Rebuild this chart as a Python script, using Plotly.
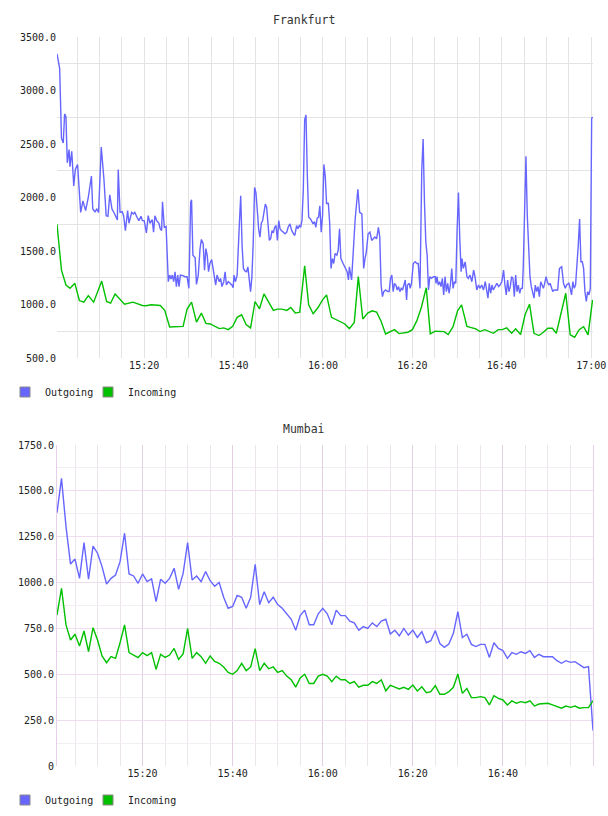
import plotly.graph_objects as go
import pandas as pd

BLUE = '#6666ff'
GREEN = '#00c000'
FONT = 'DejaVu Sans Mono'

# ---------------- Frankfurt (minutes after 15:00, value) ----------------
fra_out_min = [0.5, 1.1, 1.5, 1.9, 2.2, 2.5, 2.8, 3.2, 3.4, 3.8, 4.25, 4.6, 5.1, 5.8, 6.3, 6.9, 7.5, 7.9, 8.2, 8.5,
               9.0, 9.4, 9.8, 10.4, 11.0, 11.5, 11.9, 12.3, 12.8, 13.4, 14.0, 14.2, 14.6, 15.1, 15.4, 15.8, 16.3, 16.6,
               17.2, 17.6, 17.9, 18.4, 18.8, 19.3, 19.6, 20.0, 20.5, 20.9, 21.3, 21.8, 22.1, 22.4, 22.8, 23.3, 23.6,
               23.9, 24.1, 24.5, 24.9, 25.4, 25.7, 26.0, 26.3, 26.6, 26.9, 27.2, 27.5, 27.8, 28.1, 28.7, 29.1, 29.6,
               30.0, 30.4, 30.6, 30.9, 31.1, 31.4, 31.7, 32.1, 32.5, 32.8, 33.2, 33.5, 33.8, 34.1, 34.4, 34.7, 35.1,
               35.6, 36.0, 36.3, 36.8, 37.1, 37.4, 37.8, 38.1, 38.4, 38.8, 39.2, 39.6, 39.9, 40.1, 40.4, 40.8, 41.3,
               41.6, 41.9, 42.2, 42.6, 42.9, 43.2, 43.5, 43.8, 44.1, 44.4, 44.7, 45.0, 45.4, 45.6, 45.9, 46.2, 46.5,
               46.8, 47.1, 47.4, 47.7, 48.0, 48.3, 48.6, 48.9, 49.2, 49.5, 49.8, 50.1, 50.4, 50.7, 51.1, 51.5, 51.9,
               52.2, 52.6, 53.0, 53.4, 53.7, 54.1, 54.4, 54.7, 55.0, 55.3, 55.6, 55.9, 56.2, 56.5, 56.8, 57.2, 57.5,
               57.8, 58.1, 58.4, 58.7, 59.0, 59.3, 59.6, 59.9, 60.2, 60.5, 60.8, 61.2, 61.5, 61.8, 62.1, 62.4, 62.7,
               63.1, 63.4, 63.7, 64.0, 64.5, 64.9, 65.4, 65.7, 65.9, 66.4, 66.8, 67.2, 67.8, 68.2, 68.7, 69.1, 69.4,
               69.7, 70.1, 70.5, 70.9, 71.3, 71.6, 72.0, 72.4, 72.7, 73.0, 73.3, 73.6, 74.0, 74.5, 74.8, 75.1, 75.4,
               75.7, 76.0, 76.3, 76.6, 76.9, 77.2, 77.5, 77.8, 78.1, 78.4, 78.7, 78.9, 79.3, 79.5, 79.8, 80.2, 80.6,
               81.0, 81.3, 81.7, 82.1, 82.4, 82.7, 83.0, 83.3, 83.6, 83.9, 84.3, 84.7, 85.1, 85.3, 85.5, 85.8, 86.1,
               86.4, 86.7, 87.0, 87.3, 87.6, 87.9, 88.2, 88.5, 88.8, 89.1, 89.4, 89.7, 90.0, 90.3, 90.6, 90.9, 91.1,
               91.4, 91.8, 92.2, 92.5, 92.9, 93.3, 93.7, 94.0, 94.4, 94.8, 95.1, 95.5, 95.9, 96.3, 96.6, 96.9, 97.2,
               97.5, 97.8, 98.1, 98.5, 98.9, 99.3, 99.6, 100.0, 100.4, 100.7, 101.0, 101.3, 101.6, 101.9, 102.2,
               102.5, 102.8, 103.1, 103.4, 103.7, 104.0, 104.3, 104.6, 104.8, 105.1, 105.4, 105.7, 106.0, 106.3,
               106.6, 106.9, 107.2, 107.5, 107.8, 108.1, 108.4, 108.7, 109.0, 109.3, 109.6, 109.9, 110.2, 110.5,
               110.8, 111.1, 111.4, 111.7, 112.0, 112.5, 112.9, 113.4, 113.8, 114.2, 114.5, 115.0, 115.3, 115.6,
               115.9, 116.2, 116.5, 116.8, 117.1, 117.4, 117.7, 118.0, 118.3, 118.6, 118.9, 119.2, 119.5, 119.8,
               120.1, 120.4]
fra_out_val = [3343, 3204, 2556, 2510, 2781, 2756, 2324, 2448, 2287, 2432, 2108, 2262, 2309, 1861, 1969, 1877, 2000,
               2139, 2201, 1892, 1867, 1892, 1861, 2472, 2170, 1830, 1824, 2025, 1892, 1846, 1790, 2262, 1861, 1867,
               1830, 1691, 1877, 1759, 1861, 1846, 1861, 1815, 1784, 1824, 1784, 1784, 1670, 1830, 1759, 1793, 1676,
               1830, 1784, 1759, 1707, 1691, 1960, 1722, 1728, 1213, 1275, 1238, 1275, 1213, 1306, 1167, 1275, 1167,
               1275, 1269, 1260, 1260, 1151, 1954, 1979, 1460, 1445, 1436, 1188, 1275, 1522, 1608, 1568, 1321, 1522,
               1460, 1306, 1383, 1420, 1281, 1182, 1275, 1213, 1244, 1167, 1213, 1306, 1182, 1213, 1198, 1182, 1157,
               1275, 1213, 1275, 1759, 2016, 1553, 1337, 1312, 1306, 1352, 1260, 1120, 1260, 1584, 2093, 2046, 1830,
               1707, 1630, 1759, 1784, 1877, 1938, 1907, 1753, 1599, 1614, 1691, 1670, 1722, 1738, 1599, 1784, 1707,
               1691, 1676, 1661, 1676, 1722, 1753, 1691, 1661, 1645, 1738, 1707, 1738, 1722, 1784, 2077, 2725, 2772,
               2201, 1815, 1799, 1769, 1753, 1775, 1722, 1806, 1815, 1923, 1676, 1830, 2309, 2201, 1945, 1946, 1759,
               1337, 1429, 1383, 1476, 1460, 1507, 1707, 1429, 1383, 1352, 1306, 1229, 1352, 1229, 1553, 1799, 2077,
               1861, 1846, 1337, 1429, 1491, 1661, 1676, 1599, 1614, 1630, 1614, 1722, 1630, 1182, 1074, 1120, 1136,
               1120, 1120, 1244, 1275, 1120, 1198, 1182, 1136, 1167, 1120, 1151, 1136, 1182, 1229, 1043, 1182, 1198,
               1151, 1198, 1383, 1399, 1383, 1383, 1151, 2262, 2546, 1954, 1584, 1460, 1136, 1260, 1244, 1260, 1260,
               1198, 1260, 1182, 1213, 1167, 1244, 1090, 1260, 1120, 1198, 1105, 1182, 1337, 1151, 1213, 1198, 1691,
               2046, 1614, 1306, 1429, 1337, 1399, 1260, 1244, 1275, 1213, 1321, 1260, 1136, 1182, 1151, 1182, 1136,
               1213, 1120, 1059, 1198, 1105, 1182, 1136, 1167, 1198, 1167, 1182, 1213, 1321, 1182, 1090, 1229, 1120,
               1167, 1260, 1244, 1074, 1275, 1120, 1182, 1105, 1151, 1151, 1352, 1784, 2386, 1830, 1460, 1260, 1167,
               1120, 1059, 1182, 1120, 1167, 1074, 1213, 1182, 1151, 1198, 1260, 1213, 1182, 1198, 1151, 1120, 1136,
               1136, 1136, 1337, 1352, 1198, 1151, 1182, 1198, 1151, 1090, 1213, 1151, 1182, 1337, 1553, 1799, 1399,
               1399, 1337, 1120, 1028, 1120, 1090, 1151, 2741, 2750]

fra_in_min = [0.5, 1.0, 1.5, 2.5, 3.4, 4.5, 5.5, 6.5, 7.5, 8.7, 9.6, 10.5, 11.6, 12.5, 13.5, 14.6, 15.6, 17.5, 19.6,
              20.4, 21.6, 23.6, 24.6, 25.7, 27.8, 28.7, 29.6, 30.6, 31.7, 32.8, 33.8, 34.8, 36.8, 37.8, 38.8, 39.8,
              40.8, 41.8, 42.8, 43.8, 44.8, 45.8, 46.8, 47.8, 48.9, 49.8, 50.8, 51.9, 52.8, 53.8, 54.8, 55.9, 56.8,
              57.8, 58.9, 59.9, 60.8, 61.9, 63.9, 64.9, 65.9, 67.0, 67.9, 68.9, 70.0, 71.0, 72.0, 73.0, 74.0, 75.1,
              76.0, 77.0, 79.0, 80.0, 81.0, 82.0, 83.1, 84.0, 85.1, 87.1, 88.0, 89.1, 90.1, 91.0, 92.2, 94.2, 95.1,
              96.2, 97.2, 98.1, 99.2, 100.1, 101.1, 102.2, 103.1, 104.2, 105.2, 106.2, 107.2, 108.3, 109.3, 110.3,
              111.3, 112.2, 114.3, 115.3, 116.3, 117.3, 118.3, 119.3, 120.3]
fra_in_val = [1750, 1522, 1321, 1182, 1151, 1198, 1037, 1022, 1083, 1022, 1120, 1219, 1028, 1013, 1099, 1043, 1003,
              1022, 991, 988, 997, 991, 945, 790, 796, 796, 957, 1022, 836, 920, 824, 818, 775, 781, 765, 796, 880,
              904, 812, 781, 1028, 960, 1099, 1019, 945, 957, 957, 945, 972, 920, 929, 1361, 997, 914, 972, 1043,
              1090, 880, 843, 818, 775, 833, 1260, 864, 920, 941, 929, 843, 725, 750, 765, 728, 741, 765, 849, 972,
              1157, 725, 750, 747, 719, 793, 941, 997, 796, 772, 747, 765, 750, 731, 765, 765, 781, 731, 772, 719,
              904, 1003, 731, 710, 741, 778, 778, 731, 1105, 716, 694, 765, 793, 716, 1043]

# ---------------- Mumbai (one value per minute, 15:01 .. 17:00) ----------------
mum_out = [1381, 1568, 1305, 1101, 1128, 1023, 1218, 1018, 1199, 1160, 1087, 992, 1023, 1041, 1114, 1269, 1047, 1036,
           996, 1047, 1005, 1020, 896, 1018, 996, 1023, 1078, 963, 1050, 1218, 1014, 1036, 1005, 1060, 1010, 980,
           1000, 920, 860, 870, 930, 920, 860, 920, 1100, 880, 950, 890, 920, 880, 860, 830, 800, 740, 820, 850,
           770, 770, 830, 860, 830, 770, 850, 820, 820, 790, 780, 740, 760, 750, 780, 760, 790, 800, 720, 740, 710,
           750, 714, 741, 701, 732, 672, 683, 738, 668, 647, 665, 723, 841, 700, 718, 663, 651, 663, 663, 592, 672,
           641, 629, 587, 618, 609, 623, 614, 629, 592, 609, 596, 596, 596, 574, 560, 574, 565, 569, 554, 536, 542,
           193]
mum_in = [823, 969, 769, 687, 718, 654, 736, 623, 754, 687, 600, 563, 596, 587, 672, 769, 618, 605, 591, 618, 602,
          618, 527, 609, 592, 605, 641, 581, 611, 750, 587, 618, 596, 560, 600, 570, 560, 540, 510, 500, 520, 560,
          520, 540, 640, 520, 560, 530, 540, 510, 520, 490, 470, 430, 480, 500, 450, 450, 490, 500, 490, 460, 490,
          470, 470, 450, 460, 430, 440, 440, 460, 450, 470, 410, 440, 430, 420, 429, 418, 441, 409, 432, 400, 405,
          438, 391, 391, 405, 429, 501, 396, 423, 373, 373, 378, 373, 333, 383, 369, 360, 333, 355, 342, 351, 345,
          355, 327, 338, 338, 342, 333, 324, 315, 327, 320, 327, 315, 318, 318, 356]

series_names = ['Outgoing', 'Incoming']
fra_ticks = [500, 1000, 1500, 2000, 2500, 3000, 3500]
fra_grid = [750, 1250, 1750, 2250, 2750, 3250]
mum_ticks = [0, 250, 500, 750, 1000, 1250, 1500, 1750]
time_labels = ['15:20', '15:40', '16:00', '16:20', '16:40', '17:00']

base = pd.Timestamp('2013-05-20 15:00:00')


def at(mins):
    return [base + pd.Timedelta(minutes=m) for m in mins]


fra_out_t = at(fra_out_min)
fra_in_t = at(fra_in_min)
mum_t = at(range(1, len(mum_out) + 1))
label_t = [pd.Timestamp(f'2013-05-20 {s}:00') for s in time_labels]


def fmt(v):
    return '0' if v == 0 else f'{v:.1f}'


W, H = 608, 816
L, R = 57, 593
fig = go.Figure()

line_kw = dict(mode='lines', hoverinfo='skip', showlegend=False)
fig.add_trace(go.Scatter(x=fra_out_t, y=fra_out_val, line=dict(color=BLUE, width=1.4), xaxis='x', yaxis='y', **line_kw))
fig.add_trace(go.Scatter(x=fra_in_t, y=fra_in_val, line=dict(color=GREEN, width=1.4), xaxis='x', yaxis='y', **line_kw))
fig.add_trace(go.Scatter(x=mum_t, y=mum_out, line=dict(color=BLUE, width=1.4), xaxis='x2', yaxis='y2', **line_kw))
fig.add_trace(go.Scatter(x=mum_t, y=mum_in, line=dict(color=GREEN, width=1.4), xaxis='x2', yaxis='y2', **line_kw))

# legend entries (square swatches); a trailing blank entry keeps the last label from being clipped
for lg, xa, ya in [('legend', 'x', 'y'), ('legend2', 'x2', 'y2')]:
    for name, col in zip(series_names, [BLUE, GREEN]):
        fig.add_trace(go.Scatter(x=[None], y=[None], mode='markers', name=name, legend=lg, xaxis=xa, yaxis=ya,
                                 marker=dict(symbol='square', size=10, color=col, line=dict(color='#888888', width=1))))
    fig.add_trace(go.Scatter(x=[None], y=[None], mode='markers', name=' ', legend=lg, xaxis=xa, yaxis=ya,
                             marker=dict(size=1, color='rgba(0,0,0,0)', line=dict(width=0))))

tickfont = dict(family=FONT, size=10, color='#222222')
FGRID = '#e3e3e3'

xcommon = dict(type='date', tickmode='array', tickvals=label_t, ticktext=time_labels, ticks='',
               tickfont=tickfont, zeroline=False, showline=False, automargin=False)

legend_common = dict(orientation='h', xanchor='left', yanchor='middle', entrywidth=38, entrywidthmode='pixels',
                     font=dict(family=FONT, size=10, color='#222222'), bgcolor='rgba(0,0,0,0)', itemclick=False)

fig.update_layout(
    width=W, height=H, margin=dict(l=0, r=0, t=0, b=0, autoexpand=False),
    paper_bgcolor='white', plot_bgcolor='white',
    font=dict(family=FONT, size=10, color='#222222'),
    xaxis=dict(domain=[L / W, R / W], anchor='y', range=[fra_out_t[0], fra_out_t[-1]],
               showgrid=True, gridcolor=FGRID, gridwidth=1,
               minor=dict(tickmode='linear', tick0=base, dtick=300000, showgrid=True, gridcolor=FGRID, gridwidth=1),
               **xcommon),
    yaxis=dict(domain=[1 - 358 / H, 1 - 37 / H], anchor='x', range=[500, 3500], automargin=False,
               tickmode='array', tickvals=fra_ticks, ticktext=[fmt(v) for v in fra_ticks],
               showgrid=False, zeroline=False, ticks='', tickfont=tickfont,
               minor=dict(tickmode='array', tickvals=fra_grid, showgrid=True, gridcolor=FGRID, gridwidth=1)),
    xaxis2=dict(domain=[L / W, R / W], anchor='y2', range=[mum_t[0], mum_t[-1]],
                showgrid=True, gridcolor='#e2d0e2', gridwidth=1,
                minor=dict(tickmode='linear', tick0=base, dtick=300000, showgrid=True, gridcolor='#ece5ec', gridwidth=1),
                **{**xcommon, 'tickvals': label_t, 'ticktext': time_labels[:-1] + ['']}),
    yaxis2=dict(domain=[1 - 766 / H, 1 - 445 / H], anchor='x2', range=[0, 1750], automargin=False,
                tickmode='array', tickvals=mum_ticks, ticktext=[fmt(v) for v in mum_ticks],
                showgrid=True, gridcolor='#f0dcf0', gridwidth=1, zeroline=False, ticks='', tickfont=tickfont,
                showline=True, mirror=True, linecolor='#e6cfe9', linewidth=1,
                minor=dict(tickmode='linear', tick0=125, dtick=250, showgrid=True, gridcolor='#f3eef3', gridwidth=1)),
    legend=dict(x=5 / W, y=1 - 392 / H, **legend_common),
    legend2=dict(x=5 / W, y=1 - 800 / H, **legend_common),
    annotations=[
        dict(text='Frankfurt', x=0.5, y=1 - 20 / H, xref='paper', yref='paper', showarrow=False,
             xanchor='center', yanchor='middle', font=dict(family=FONT, size=11.5, color='#333333')),
        dict(text='Mumbai', x=0.5, y=1 - 429 / H, xref='paper', yref='paper', showarrow=False,
             xanchor='center', yanchor='middle', font=dict(family=FONT, size=11.5, color='#333333')),
    ],
    hovermode=False,
)

fig.write_html('out.html', config={'displayModeBar': False})
